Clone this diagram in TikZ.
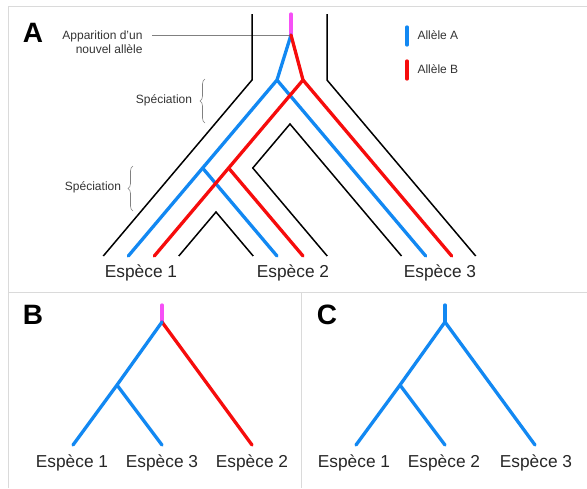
\documentclass[tikz,border=0pt]{standalone}
\usepackage{fontspec}
\setmainfont{Liberation Sans}
\usetikzlibrary{decorations.pathreplacing}
\definecolor{alA}{RGB}{18,136,242}
\definecolor{alB}{RGB}{246,12,12}
\definecolor{mut}{RGB}{246,80,246}
\definecolor{framecol}{RGB}{218,218,218}
\begin{document}
\begin{tikzpicture}[x=1pt,y=-1pt,
  framel/.style={draw=framecol,line width=1pt},
  lineage/.style={draw=black,line width=1.5pt,line join=miter},
  brA/.style={draw=alA,line width=3.3pt,line cap=round,line join=round},
  brB/.style={draw=alB,line width=3.3pt,line cap=round,line join=round},
  brM/.style={draw=mut,line width=3.3pt,line cap=round},
  spbrace/.style={draw=gray,line width=0.6pt,decorate,decoration={brace,amplitude=5pt}},
  panel/.style={font=\fontsize{28}{30}\selectfont\bfseries},
  note/.style={font=\fontsize{12}{14}\selectfont,text=black!80},
  sp/.style={font=\fontsize{17.3}{19}\selectfont,text=black!85}]
\useasboundingbox (0,0) rectangle (587,488);
% frame
\coordinate (f1) at (8,488);
\coordinate (f2) at (8,6);
\coordinate (f3) at (587,6);
\coordinate (f4) at (8,292);
\coordinate (f5) at (587,292);
\coordinate (f6) at (301,292);
\coordinate (f7) at (301,488);
\draw[framel] (f1) -- (f2) -- (f3);
\draw[framel] (f4) -- (f5);
\draw[framel] (f6) -- (f7);
% ===== Panel A =====
\node[panel] (la) at (33,33) {A};
% annotation
\node[note,align=right,anchor=east] (app) at (146,42) {Apparition d’un\\nouvel allèle};
\coordinate (ann) at (152,35);
\coordinate (m) at (291,35);
\draw[gray,line width=0.7pt] (ann) -- (m);
% black outer lineages
\coordinate (ol0) at (252,14);
\coordinate (ol1) at (252,80);
\coordinate (ol2) at (103.3,256);
\coordinate (or0) at (327,14);
\coordinate (or1) at (327,80);
\coordinate (or2) at (475.7,256);
\draw[lineage] (ol0) -- (ol1) -- (ol2);
\draw[lineage] (or0) -- (or1) -- (or2);
% black inner lineages
\coordinate (ia) at (290,124);
\coordinate (ib) at (401.5,256);
\coordinate (ic) at (252.8,168);
\coordinate (id) at (327.2,256);
\draw[lineage] (id) -- (ic) -- (ia) -- (ib);
\coordinate (ja) at (216,212);
\coordinate (jb) at (178.8,256);
\coordinate (jc) at (253.2,256);
\draw[lineage] (jb) -- (ja) -- (jc);
% mutation
\coordinate (m0) at (291,14);
\draw[brM] (m0) -- (m);
% allele A (blue)
\coordinate (a1) at (277,80);
\coordinate (a2) at (128.3,256);
\coordinate (as) at (202.6,168);
\coordinate (a3) at (277,256);
\coordinate (a4) at (425.7,256);
\draw[brA] (m) -- (a1) -- (a2);
\draw[brA] (a1) -- (a4);
\draw[brA] (as) -- (a3);
% allele B (red)
\coordinate (b1) at (303,80);
\coordinate (b2) at (154.3,256);
\coordinate (bs) at (228.6,168);
\coordinate (b3) at (303,256);
\coordinate (b4) at (451.7,256);
\draw[brB] (m) -- (b1) -- (b2);
\draw[brB] (b1) -- (b4);
\draw[brB] (bs) -- (b3);
% speciation braces
\coordinate (s1a) at (205,123);
\coordinate (s1b) at (205,79);
\draw[spbrace] (s1a) -- (s1b);
\node[note] (s1) at (164,100) {Spéciation};
\coordinate (s2a) at (133,211);
\coordinate (s2b) at (133,166);
\draw[spbrace] (s2a) -- (s2b);
\node[note] (s2) at (93,187) {Spéciation};
% legend
\coordinate (lga1) at (407,27);
\coordinate (lga2) at (407,45);
\draw[brA] (lga1) -- (lga2);
\node[note,anchor=west] (lgA) at (414,35) {Allèle A};
\coordinate (lgb1) at (407,61);
\coordinate (lgb2) at (407,79);
\draw[brB] (lgb1) -- (lgb2);
\node[note,anchor=west] (lgB) at (414,69) {Allèle B};
% species labels
\node[sp] (e1) at (141,273) {Espèce 1};
\node[sp] (e2) at (293,273) {Espèce 2};
\node[sp] (e3) at (440,273) {Espèce 3};
% ===== Panel B =====
\node[panel] (lb) at (33,315) {B};
\coordinate (B0) at (162,305);
\coordinate (B1) at (162,322);
\coordinate (Bl) at (73,445);
\coordinate (Bs) at (117,385);
\coordinate (Bm) at (162,445);
\coordinate (Br) at (252,445);
\draw[brM] (B0) -- (B1);
\draw[brB] (B1) -- (Br);
\draw[brA] (B1) -- (Bs) -- (Bl);
\draw[brA] (Bs) -- (Bm);
\node[sp] (be1) at (72,463) {Espèce 1};
\node[sp] (be3) at (162,463) {Espèce 3};
\node[sp] (be2) at (252,463) {Espèce 2};
% ===== Panel C =====
\node[panel] (lc) at (327,315) {C};
\coordinate (C0) at (445,305);
\coordinate (C1) at (445,322);
\coordinate (Cl) at (356,445);
\coordinate (Cs) at (400,385);
\coordinate (Cm) at (445,445);
\coordinate (Cr) at (535,445);
\draw[brA] (C0) -- (C1);
\draw[brA] (Cr) -- (C1) -- (Cs) -- (Cl);
\draw[brA] (Cs) -- (Cm);
\node[sp] (ce1) at (354,463) {Espèce 1};
\node[sp] (ce2) at (444,463) {Espèce 2};
\node[sp] (ce3) at (536,463) {Espèce 3};
\end{tikzpicture}
\end{document}
